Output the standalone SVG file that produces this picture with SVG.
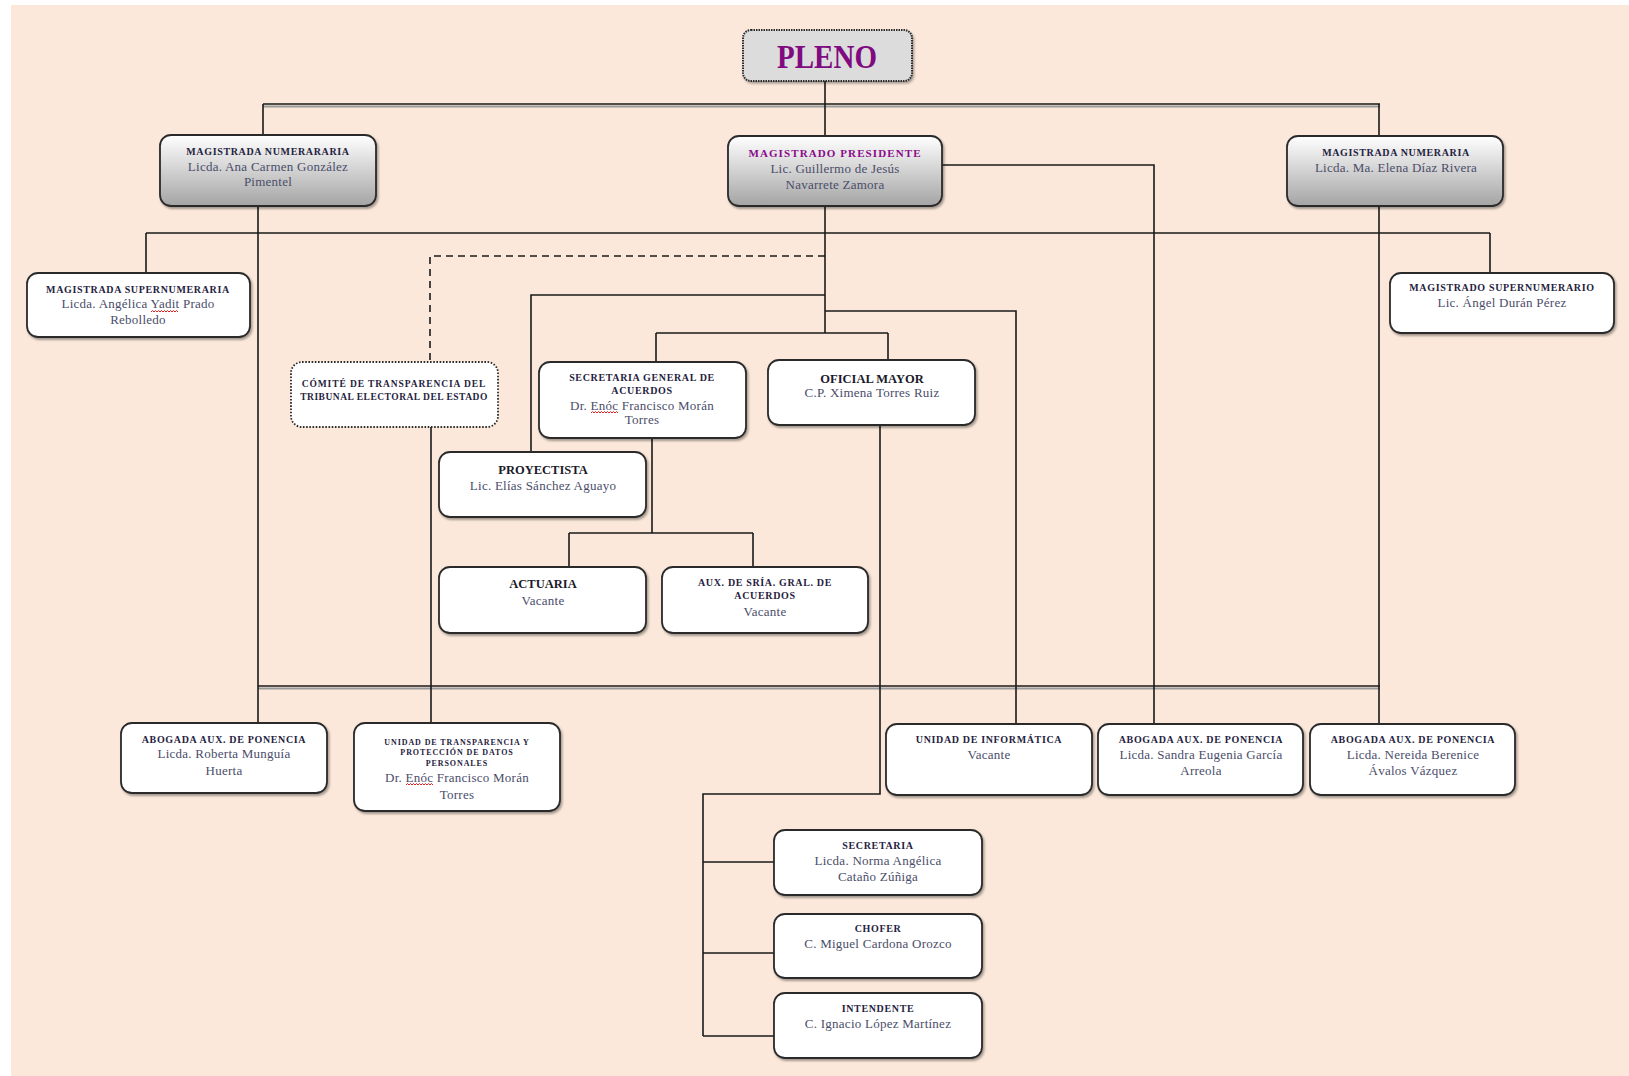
<svg xmlns="http://www.w3.org/2000/svg" width="1629" height="1076" viewBox="0 0 1629 1076">
<defs>
<linearGradient id="g" x1="0" y1="0" x2="0" y2="1"><stop offset="0" stop-color="#ffffff"/><stop offset="1" stop-color="#a4a4a4"/></linearGradient>
<filter id="sh" x="-5%" y="-5%" width="115%" height="130%"><feDropShadow dx="1.5" dy="2" stdDeviation="1" flood-color="#000" flood-opacity="0.35"/></filter>
<style>
.box{fill:#fff;stroke:#2b2b2b;stroke-width:1.8;filter:url(#sh)}
.gbox{fill:url(#g);stroke:#2b2b2b;stroke-width:1.8;filter:url(#sh)}
.dot{fill:#fff;stroke:#2b2b2b;stroke-width:1.8;stroke-dasharray:1.6 1.6}
.t{font-family:"Liberation Serif","DejaVu Serif",serif;font-weight:bold;font-size:10px;fill:#1f2340;text-anchor:middle;letter-spacing:0.65px}
.tb{font-family:"Liberation Serif","DejaVu Serif",serif;font-weight:bold;font-size:12.5px;fill:#1a1a2a;text-anchor:middle}
.tx{font-family:"Liberation Serif","DejaVu Serif",serif;font-weight:bold;font-size:8px;fill:#1f2340;text-anchor:middle;letter-spacing:0.9px}
.n{font-family:"Liberation Serif","DejaVu Serif",serif;font-size:13px;fill:#4a4d6a;text-anchor:middle;letter-spacing:0.25px}
.c{fill:none;stroke:#1a1a1a;stroke-width:1.6}
.cs{fill:none;stroke:#9a9a9a;stroke-width:2}
.sq{fill:none;stroke:#e02020;stroke-width:1}
</style>
</defs>
<rect width="1629" height="1076" fill="#ffffff"/>
<rect x="11" y="5" width="1618" height="1071" fill="#fbe8da"/>

<g id="connectors">
<path class="cs" d="M263 106.5H1380"/>
<path class="cs" d="M258 688.5H1380"/>
<path class="c" d="M825 81V104M263 104H1380M263 104V135M825 104V136M1379 104V136"/>
<path class="c" d="M258 206V723M146 233H1490M146 233V273M1490 233V273M1379 206V724"/>
<path class="c" d="M825 206V333"/>
<path class="c" d="M825 256H430V362" stroke-dasharray="7 5"/>
<path class="c" d="M825 295H531V452M825 311H1016V724M656 333H888M656 333V362M888 333V360"/>
<path class="c" d="M942 165H1154V724M431 427V723"/>
<path class="c" d="M652 438V533M569 533H753M569 533V567M753 533V567"/>
<path class="c" d="M880 425V794H703V1036M703 862H774M703 953H774M703 1036H774"/>
<path class="c" d="M258 686H1380"/>
</g>

<g id="pleno">
<rect x="743" y="30" width="169" height="51" rx="8" fill="#dcdcdc" stroke="#2b2b2b" stroke-width="2" stroke-dasharray="1.5 1" filter="url(#sh)"/>
<text x="827" y="68" font-family="Liberation Serif, DejaVu Serif, serif" font-size="34" font-weight="bold" fill="#800a80" text-anchor="middle" textLength="100" lengthAdjust="spacingAndGlyphs">PLENO</text>
</g>

<g id="magistrada-numeraria-1">
<rect class="gbox" x="160" y="135" width="216" height="71" rx="11"/>
<text class="t" x="268" y="155">MAGISTRADA NUMERARARIA</text>
<text class="n" x="268" y="171">Licda. Ana Carmen  González</text>
<text class="n" x="268" y="186">Pimentel</text>
</g>

<g id="magistrado-presidente">
<rect class="gbox" x="728" y="136" width="214" height="70" rx="11"/>
<text class="t" x="835" y="157" style="fill:#8b0a8b;font-size:11px;letter-spacing:1.1px">MAGISTRADO PRESIDENTE</text>
<text class="n" x="835" y="173">Lic. Guillermo de Jesús</text>
<text class="n" x="835" y="189">Navarrete Zamora</text>
</g>

<g id="magistrada-numeraria-2">
<rect class="gbox" x="1287" y="136" width="216" height="70" rx="11"/>
<text class="t" x="1396" y="156">MAGISTRADA NUMERARIA</text>
<text class="n" x="1396" y="172">Licda. Ma. Elena Díaz Rivera</text>
</g>

<g id="magistrada-supernumeraria">
<rect class="box" x="27" y="273" width="223" height="64" rx="11"/>
<text class="t" x="138" y="293">MAGISTRADA SUPERNUMERARIA</text>
<text class="n" x="138" y="308">Licda. Angélica Yadit Prado</text>
<text class="n" x="138" y="324">Rebolledo</text>
<path class="sq" d="M151 312l1.5 -1.5l1.5 1.5l1.5 -1.5l1.5 1.5l1.5 -1.5l1.5 1.5l1.5 -1.5l1.5 1.5l1.5 -1.5l1.5 1.5l1.5 -1.5l1.5 1.5l1.5 -1.5l1.5 1.5l1.5 -1.5l1.5 1.5l1.5 -1.5l1.5 1.5"/>
</g>

<g id="magistrado-supernumerario">
<rect class="box" x="1390" y="273" width="224" height="60" rx="11"/>
<text class="t" x="1502" y="291">MAGISTRADO SUPERNUMERARIO</text>
<text class="n" x="1502" y="307">Lic. Ángel Durán Pérez</text>
</g>

<g id="comite-transparencia">
<rect class="dot" x="291" y="362" width="207" height="65" rx="11"/>
<text class="t" x="394" y="387" style="font-size:9.5px;letter-spacing:0.9px">CÓMITÉ DE TRANSPARENCIA DEL</text>
<text class="t" x="394" y="400" style="font-size:9.5px;letter-spacing:0.5px">TRIBUNAL ELECTORAL DEL ESTADO</text>
</g>

<g id="secretaria-general">
<rect class="box" x="539" y="362" width="207" height="76" rx="11"/>
<text class="t" x="642" y="381">SECRETARIA GENERAL DE</text>
<text class="t" x="642" y="394">ACUERDOS</text>
<text class="n" x="642" y="410">Dr. Enóc Francisco Morán</text>
<text class="n" x="642" y="424">Torres</text>
<path class="sq" d="M591 413l1.5 -1.5l1.5 1.5l1.5 -1.5l1.5 1.5l1.5 -1.5l1.5 1.5l1.5 -1.5l1.5 1.5l1.5 -1.5l1.5 1.5l1.5 -1.5l1.5 1.5l1.5 -1.5l1.5 1.5l1.5 -1.5l1.5 1.5l1.5 -1.5l1.5 1.5"/>
</g>

<g id="oficial-mayor">
<rect class="box" x="768" y="360" width="207" height="65" rx="11"/>
<text class="tb" x="872" y="383">OFICIAL MAYOR</text>
<text class="n" x="872" y="397">C.P. Ximena Torres Ruiz</text>
</g>

<g id="proyectista">
<rect class="box" x="439" y="452" width="207" height="65" rx="11"/>
<text class="tb" x="543" y="474">PROYECTISTA</text>
<text class="n" x="543" y="490">Lic. Elías Sánchez Aguayo</text>
</g>

<g id="actuaria">
<rect class="box" x="439" y="567" width="207" height="66" rx="11"/>
<text class="tb" x="543" y="588">ACTUARIA</text>
<text class="n" x="543" y="605">Vacante</text>
</g>

<g id="aux-sria">
<rect class="box" x="662" y="567" width="206" height="66" rx="11"/>
<text class="t" x="765" y="586">AUX. DE SRÍA.  GRAL.  DE</text>
<text class="t" x="765" y="599">ACUERDOS</text>
<text class="n" x="765" y="616">Vacante</text>
</g>

<g id="abogada-roberta">
<rect class="box" x="121" y="723" width="206" height="70" rx="11"/>
<text class="t" x="224" y="743">ABOGADA AUX. DE PONENCIA</text>
<text class="n" x="224" y="758">Licda. Roberta Munguía</text>
<text class="n" x="224" y="775">Huerta</text>
</g>

<g id="unidad-transparencia">
<rect class="box" x="354" y="723" width="206" height="88" rx="11"/>
<text class="tx" x="457" y="745">UNIDAD DE TRANSPARENCIA  Y</text>
<text class="tx" x="457" y="755">PROTECCIÓN  DE DATOS</text>
<text class="tx" x="457" y="766">PERSONALES</text>
<text class="n" x="457" y="782">Dr. Enóc Francisco Morán</text>
<text class="n" x="457" y="799">Torres</text>
<path class="sq" d="M406 785l1.5 -1.5l1.5 1.5l1.5 -1.5l1.5 1.5l1.5 -1.5l1.5 1.5l1.5 -1.5l1.5 1.5l1.5 -1.5l1.5 1.5l1.5 -1.5l1.5 1.5l1.5 -1.5l1.5 1.5l1.5 -1.5l1.5 1.5l1.5 -1.5l1.5 1.5"/>
</g>

<g id="unidad-informatica">
<rect class="box" x="886" y="724" width="206" height="71" rx="11"/>
<text class="t" x="989" y="743">UNIDAD DE INFORMÁTICA</text>
<text class="n" x="989" y="759">Vacante</text>
</g>

<g id="abogada-sandra">
<rect class="box" x="1098" y="724" width="205" height="71" rx="11"/>
<text class="t" x="1201" y="743">ABOGADA AUX. DE PONENCIA</text>
<text class="n" x="1201" y="759">Licda. Sandra Eugenia García</text>
<text class="n" x="1201" y="775">Arreola</text>
</g>

<g id="abogada-nereida">
<rect class="box" x="1310" y="724" width="205" height="71" rx="11"/>
<text class="t" x="1413" y="743">ABOGADA AUX. DE PONENCIA</text>
<text class="n" x="1413" y="759">Licda. Nereida Berenice</text>
<text class="n" x="1413" y="775">Ávalos Vázquez</text>
</g>

<g id="secretaria">
<rect class="box" x="774" y="830" width="208" height="65" rx="11"/>
<text class="t" x="878" y="849">SECRETARIA</text>
<text class="n" x="878" y="865">Licda. Norma Angélica</text>
<text class="n" x="878" y="881">Cataño Zúñiga</text>
</g>

<g id="chofer">
<rect class="box" x="774" y="914" width="208" height="64" rx="11"/>
<text class="t" x="878" y="932">CHOFER</text>
<text class="n" x="878" y="948">C. Miguel Cardona Orozco</text>
</g>

<g id="intendente">
<rect class="box" x="774" y="993" width="208" height="65" rx="11"/>
<text class="t" x="878" y="1012">INTENDENTE</text>
<text class="n" x="878" y="1028">C. Ignacio López Martínez</text>
</g>
</svg>
